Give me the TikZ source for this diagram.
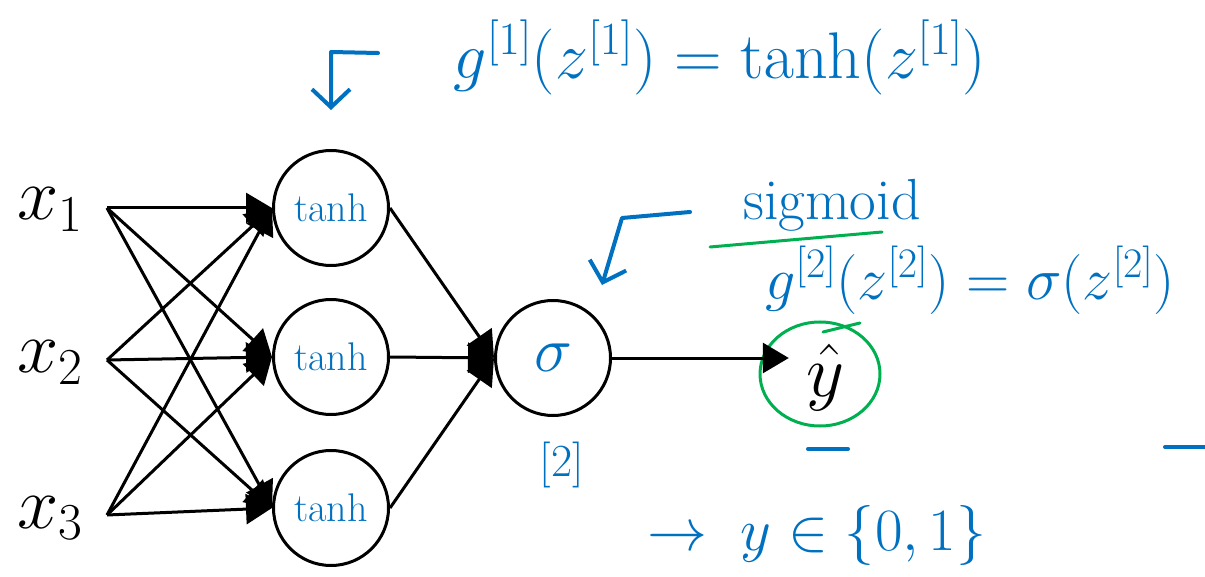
\RequirePackage{fix-cm}
\documentclass[tikz,border=0pt]{standalone}
\usepackage{amsmath}
\usepackage{tikz}
\usetikzlibrary{arrows.meta}
\definecolor{inkblue}{RGB}{0,112,192}
\definecolor{inkgreen}{RGB}{0,176,80}
\newcommand*{\fsz}[1]{\fontsize{#1}{#1}\selectfont}
\tikzset{
  neuron/.style={draw, circle, line width=3pt, minimum size=115pt, inner sep=0pt},
  wire/.style={line width=3pt, -{Triangle[length=26pt,width=30pt]}},
  scribble/.style={draw=inkblue, line width=4pt, line cap=round, line join=round},
  barb/.style={-{Straight Barb[length=18pt,width=38pt,line width=4pt]}},
}

\begin{document}
\begin{tikzpicture}[x=1pt, y=-1pt]
\useasboundingbox (0,0) rectangle (1205,577);

%Inputs
\node[anchor=base, font=\fsz{74}] (x1) at (50, 220) {$x_1$};
\node[anchor=base, font=\fsz{74}] (x2) at (50, 373) {$x_2$};
\node[anchor=base, font=\fsz{74}] (x3) at (50, 528) {$x_3$};
\coordinate (in1) at (107, 208);
\coordinate (in2) at (107, 360);
\coordinate (in3) at (107, 515);

%Hidden layer
\node[neuron, text=inkblue, font=\fsz{40}] (h1) at (331, 208) {tanh};
\node[neuron, text=inkblue, font=\fsz{40}] (h2) at (331, 357) {tanh};
\node[neuron, text=inkblue, font=\fsz{40}] (h3) at (331, 508) {tanh};

%Output
\node[neuron, text=inkblue, font=\fsz{64}] (out) at (553, 358) {$\sigma$\hspace{22pt}};
\node[anchor=base, font=\fsz{74}, inner sep=17pt] (yhat) at (825, 396) {$\hat{y}$};
\draw [inkgreen, line width=3pt] (820, 374) ellipse [x radius=60, y radius=52];

\foreach \i in {1,2,3}
  \foreach \j in {1,2,3}
    \draw [wire] (in\i) -- (h\j.west);
\foreach \j in {1,2,3}
  \draw [wire] (h\j.east) -- (out.west);
\draw [wire] (out.east) -- (out.east -| yhat.west);

%Notes
\node[text=inkblue, font=\fsz{66}] (eq1) at (720, 57) {$g^{[1]}(z^{[1]}) = \tanh(z^{[1]})$};
\draw [scribble, barb] (378, 53) -- (331, 52) -- (331, 110);

\node[text=inkblue, font=\fsz{58}] (sig) at (832, 205) {sigmoid};
\draw [draw=inkgreen, line width=3pt, line cap=round] (710, 247) -- (882, 232);
\node[text=inkblue, font=\fsz{60}] (eq2) at (970, 280) {$g^{[2]}(z^{[2]}) = \sigma(z^{[2]})$};
\draw [scribble, barb] (690, 212) -- (622, 218) -- (602, 285);

\node[text=inkblue, font=\fsz{46}] (lay) at (562, 465) {[2]};
\node[text=inkblue, font=\fsz{60}] (ys) at (817, 535) {$\rightarrow\; y\in\{0,1\}$};

\draw [scribble] (808, 449) -- (848, 449);
\draw [scribble] (1165, 447) -- (1205, 447);
\draw [draw=inkgreen, line width=3pt, line cap=round] (823, 332) -- (860, 323);
\end{tikzpicture}
\end{document}
